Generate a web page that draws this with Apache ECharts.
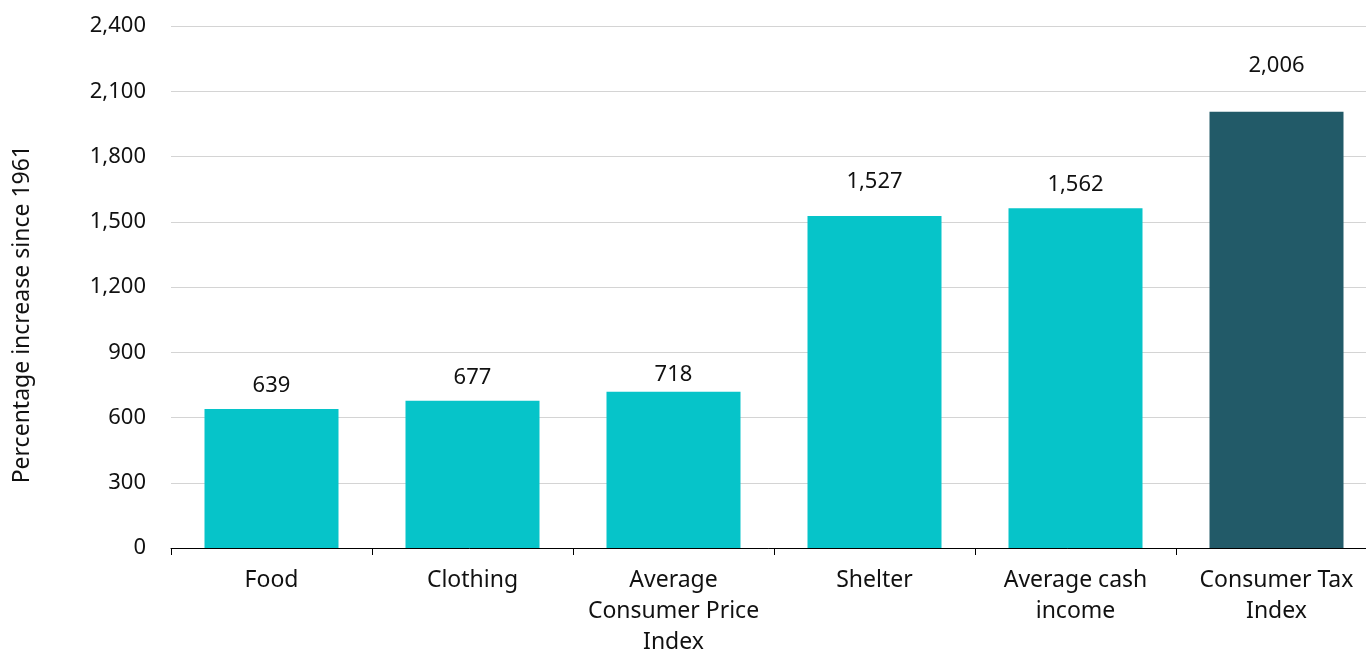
<!DOCTYPE html>
<html>
<head>
<meta charset="utf-8">
<script src="https://cdn.jsdelivr.net/npm/echarts@6/dist/echarts.min.js"></script>
<style>html,body{margin:0;padding:0;background:#fff}#c{width:1366px;height:652px}</style>
</head>
<body>
<div id="c"></div>
<script>
var categories = ['Food', 'Clothing', 'Average\nConsumer Price\nIndex', 'Shelter', 'Average cash\nincome', 'Consumer Tax\nIndex'];
var values = [639, 677, 718, 1527, 1562, 2006];
var barColors = ['#06C4C9', '#06C4C9', '#06C4C9', '#06C4C9', '#06C4C9', '#225A68'];
var labelGaps = [12, 12, 6, 23, 13, 35];
var yTicks = { min: 0, max: 2400, interval: 300 };
var yTitle = 'Percentage increase since 1961';

var font = 'Noto Sans';
var chart = echarts.init(document.getElementById('c'));
chart.setOption({
  animation: false,
  textStyle: { fontFamily: font },
  grid: { left: 171, top: 26, width: 1206, height: 522, containLabel: false, outerBoundsMode: 'none' },
  xAxis: {
    type: 'category',
    data: categories,
    axisLine: { lineStyle: { color: '#000', width: 1 } },
    axisTick: { show: true, length: 7, lineStyle: { color: '#000' } },
    axisLabel: { color: '#111', fontSize: 23, lineHeight: 31, margin: 17, interval: 0, fontFamily: font }
  },
  yAxis: {
    type: 'value',
    min: yTicks.min, max: yTicks.max, interval: yTicks.interval,
    axisLine: { show: false },
    axisTick: { show: false },
    splitLine: { lineStyle: { color: '#d4d4d4', width: 1 } },
    axisLabel: {
      color: '#111', fontSize: 22, margin: 25, fontFamily: font,
      formatter: function (v) { return v.toLocaleString('en-US'); }
    }
  },
  graphic: [{
    type: 'text',
    left: 11, top: 145,
    rotation: Math.PI / 2,
    style: { text: yTitle, fontSize: 23, fill: '#111', fontFamily: font }
  }],
  series: [{
    type: 'bar',
    barWidth: 134,
    data: values.map(function (v, i) {
      return { value: v, itemStyle: { color: barColors[i] }, label: { distance: labelGaps[i] } };
    }),
    label: {
      show: true, position: 'top', distance: 12, color: '#111', fontSize: 22, fontFamily: font,
      formatter: function (p) { return p.value.toLocaleString('en-US'); }
    }
  }]
});
</script>
</body>
</html>
